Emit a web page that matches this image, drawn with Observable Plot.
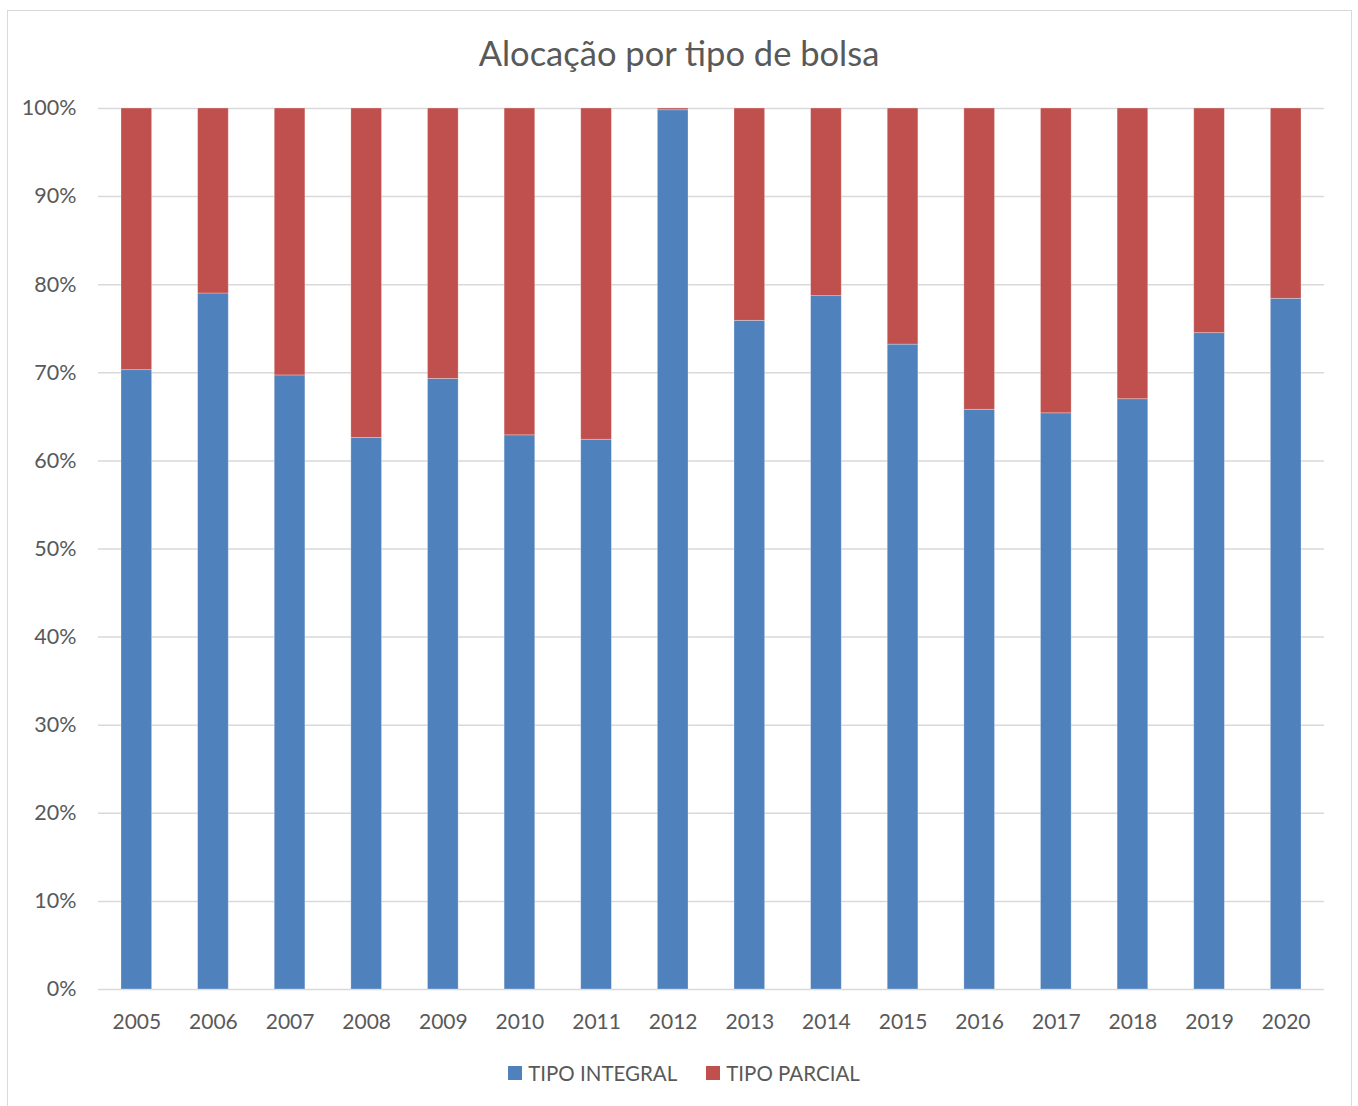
<!DOCTYPE html>
<html>
<head>
<meta charset="utf-8">
<script src="https://cdn.jsdelivr.net/npm/d3@7"></script>
<script src="https://cdn.jsdelivr.net/npm/@observablehq/plot@0.6"></script>
<style>
  html, body { margin: 0; padding: 0; background: #fff; }
  #wrap { position: relative; width: 1358px; height: 1106px; overflow: hidden; font-family: Lato, "Open Sans", sans-serif; color: #595959; }
  #frame { position: absolute; left: 7px; top: 10px; width: 1345px; height: 1110px; border: 1px solid #d9d9d9; box-sizing: border-box; }
  #title { position: absolute; left: 0; width: 1358px; top: 32px; text-align: center; font-size: 34.5px; color: #595959; }
  #chart { position: absolute; left: 0; top: 0; }
  #legend { position: absolute; left: 0; width: 1368px; top: 1061px; display: flex; justify-content: center; gap: 29px; font-size: 20.5px; color: #595959; }
  .item { display: flex; align-items: center; }
  .sw { width: 14px; height: 14px; margin-right: 6px; display: inline-block; }
</style>
</head>
<body>
<div id="wrap">
  <div id="frame"></div>
  <div id="title">Alocação por tipo de bolsa</div>
  <div id="chart"></div>
  <div id="legend"></div>
</div>
<script>
const years = ["2005","2006","2007","2008","2009","2010","2011","2012","2013","2014","2015","2016","2017","2018","2019","2020"];
const tipoIntegral = [70.3, 79.0, 69.7, 62.6, 69.3, 62.9, 62.4, 99.8, 75.9, 78.7, 73.2, 65.8, 65.4, 67.0, 74.5, 78.4];
const tipoParcial  = [29.7, 21.0, 30.3, 37.4, 30.7, 37.1, 37.6, 0.2, 24.1, 21.3, 26.8, 34.2, 34.6, 33.0, 25.5, 21.6];
const seriesNames = ["TIPO INTEGRAL", "TIPO PARCIAL"];
const seriesColors = ["#4F81BD", "#C0504D"];
const yTicks = [0, 10, 20, 30, 40, 50, 60, 70, 80, 90, 100];

const data = [];
years.forEach((y, i) => {
  data.push({year: y, series: seriesNames[0], value: tipoIntegral[i]});
  data.push({year: y, series: seriesNames[1], value: tipoParcial[i]});
});

const plot = Plot.plot({
  width: 1358,
  height: 1050,
  marginTop: 108,
  marginBottom: 61,
  marginLeft: 98,
  marginRight: 34,
  style: {fontFamily: "Lato, 'Open Sans', sans-serif", fontSize: "20px", color: "#595959", background: "transparent"},
  x: {domain: years, paddingInner: 0.6, paddingOuter: 0.3, round: false, label: null},
  y: {domain: [0, 100], label: null},
  color: {domain: seriesNames, range: seriesColors},
  marks: [
    Plot.ruleY(yTicks, {stroke: "#d9d9d9", strokeWidth: 1.5}),
    Plot.barY(data, Plot.stackY({order: seriesNames, x: "year", y: "value", fill: "series", stroke: "#ffffff", strokeOpacity: 0.35, strokeWidth: 0.8})),
    Plot.axisX({tickSize: 0, tickPadding: 25, fontSize: 21, fill: "#595959"}),
    Plot.axisY({ticks: yTicks, tickSize: 0, tickPadding: 22, tickFormat: d => d + "%", fontSize: 21.5, fill: "#595959"})
  ]
});
document.getElementById("chart").appendChild(plot);

const legend = document.getElementById("legend");
seriesNames.forEach((n, i) => {
  const it = document.createElement("div");
  it.className = "item";
  const sw = document.createElement("span");
  sw.className = "sw";
  sw.style.background = seriesColors[i];
  it.appendChild(sw);
  it.appendChild(document.createTextNode(n));
  legend.appendChild(it);
});
</script>
</body>
</html>
